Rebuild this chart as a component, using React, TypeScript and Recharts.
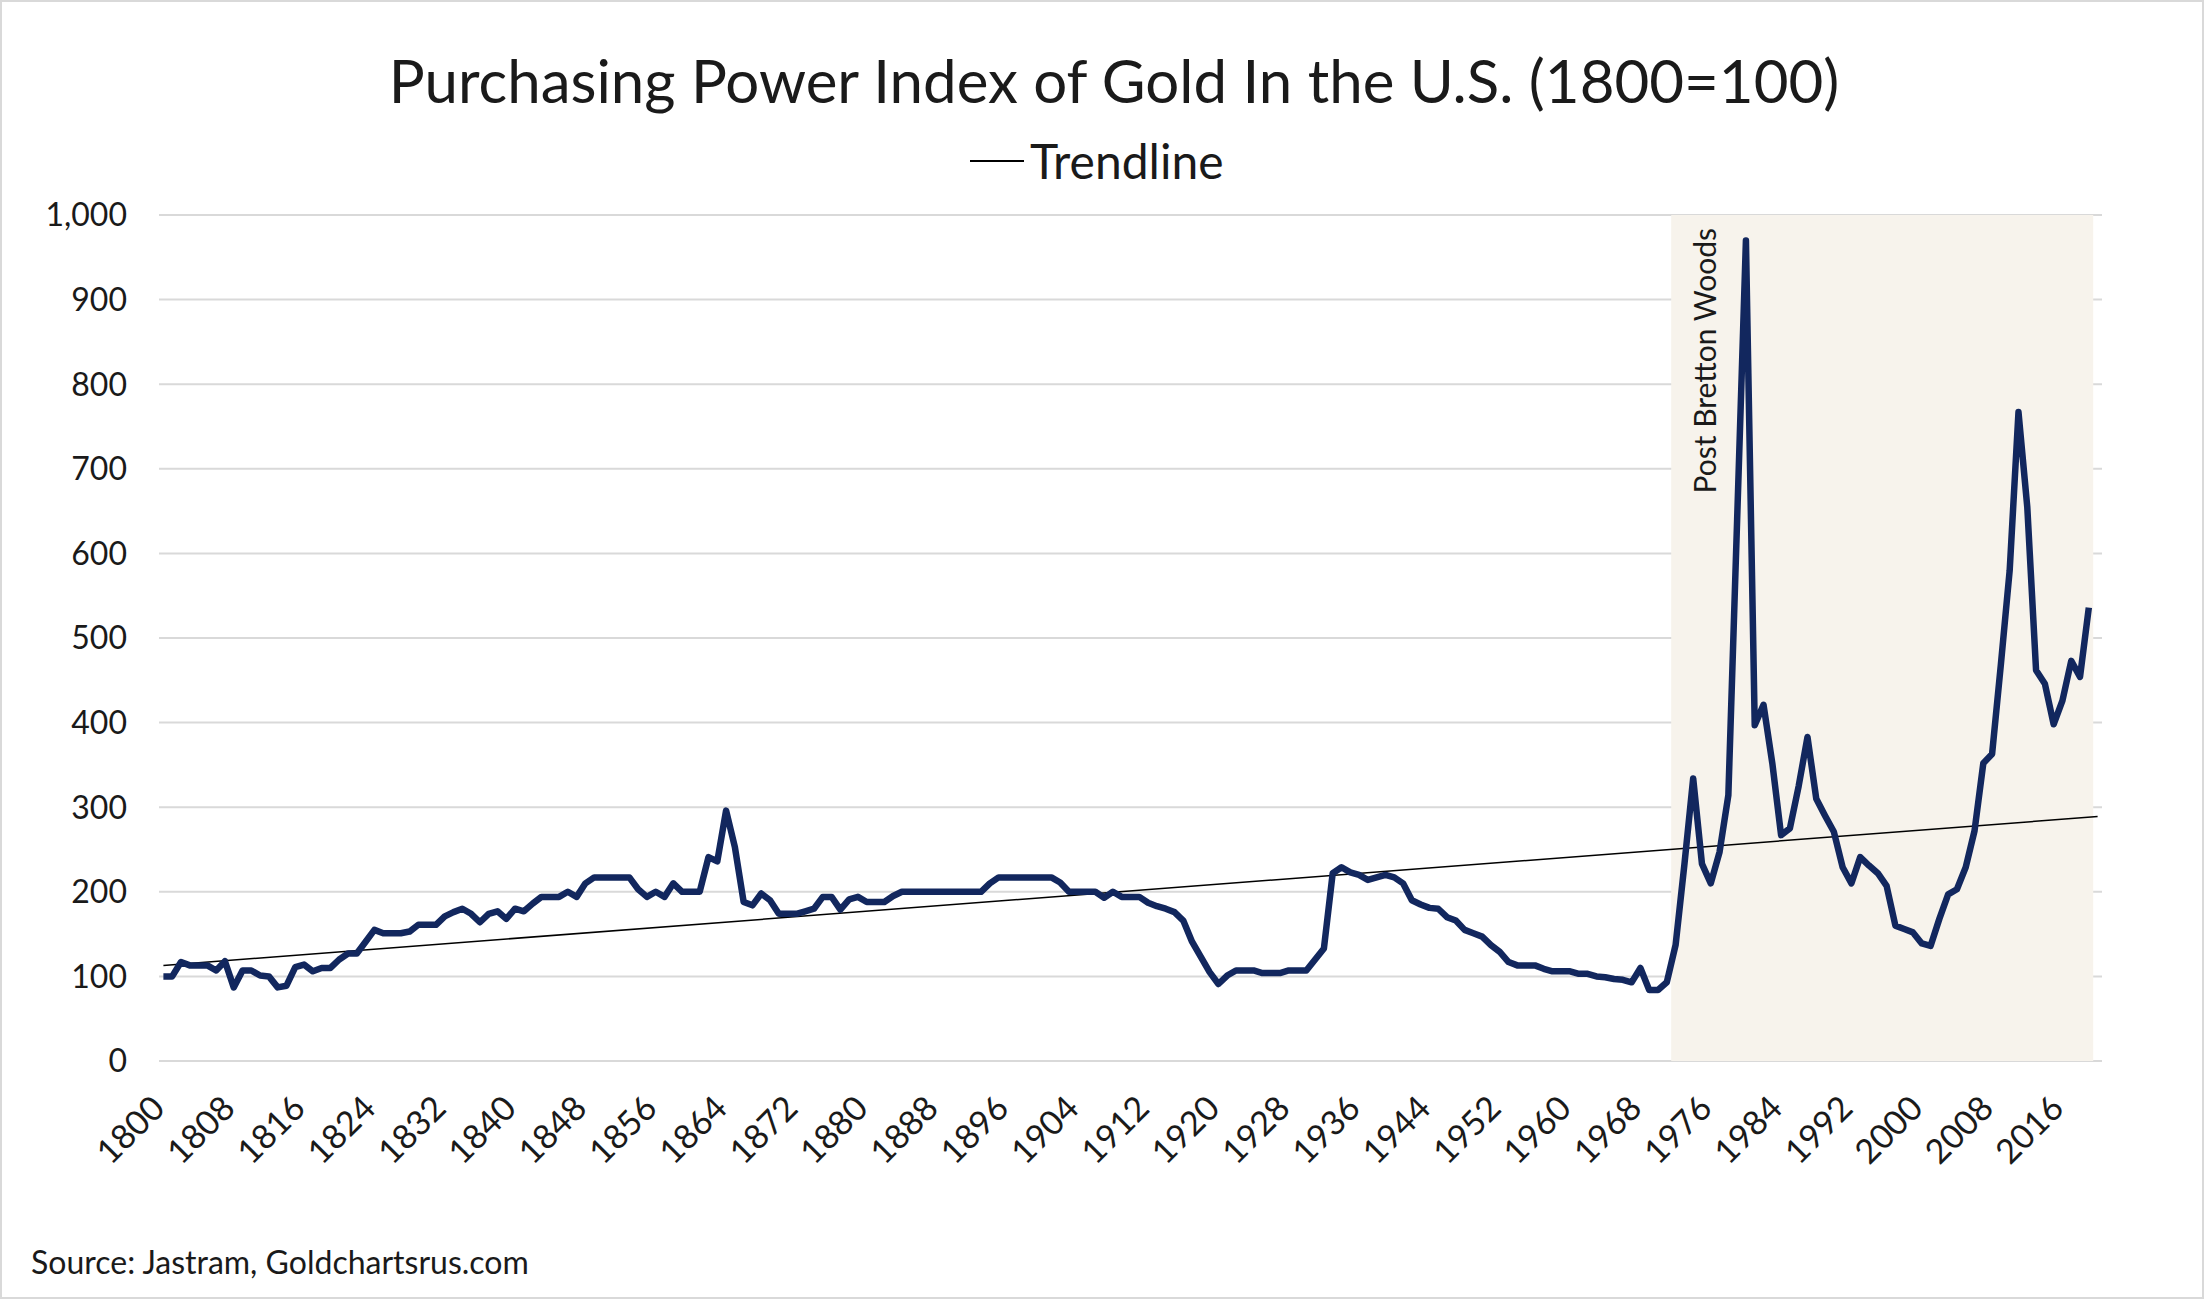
import React from 'react';
import {
  ComposedChart,
  Line,
  XAxis,
  YAxis,
  CartesianGrid,
  ReferenceArea,
  ReferenceLine,
} from 'recharts';

// categories: one per year, 1800..2020 (2020 has no value, the axis just runs to it)
const years: string[] = Array.from({ length: 221 }, (_, i) => String(1800 + i));

// purchasing power index of gold, 1800=100 (1800..2019)
const goldIndex: number[] = [
  100, 100, 117, 113, 113, 113, 107, 118, 87, 107, // 1800s
  107, 101, 100, 87, 89, 111, 114, 106, 110, 110, // 1810s
  120, 127, 127, 141, 155, 151, 151, 151, 153, 161, // 1820s
  161, 161, 171, 176, 180, 174, 164, 174, 177, 168, // 1830s
  180, 177, 186, 194, 194, 194, 200, 194, 210, 217, // 1840s
  217, 217, 217, 217, 203, 194, 200, 194, 210, 200, // 1850s
  200, 200, 241, 236, 296, 253, 188, 184, 198, 190, // 1860s
  174, 174, 174, 177, 180, 194, 194, 179, 191, 194, // 1870s
  188, 188, 188, 195, 200, 200, 200, 200, 200, 200, // 1880s
  200, 200, 200, 200, 210, 217, 217, 217, 217, 217, // 1890s
  217, 217, 211, 200, 200, 200, 200, 193, 200, 194, // 1900s
  194, 194, 187, 183, 180, 176, 166, 141, 123, 105, // 1910s
  91, 101, 107, 107, 107, 104, 104, 104, 107, 107, // 1920s
  107, 120, 133, 222, 229, 223, 220, 214, 217, 220, // 1930s
  217, 210, 190, 185, 181, 180, 170, 166, 155, 151, // 1940s
  147, 137, 129, 117, 113, 113, 113, 109, 106, 106, // 1950s
  106, 103, 103, 100, 99, 97, 96, 93, 110, 84, // 1960s
  84, 93, 137, 232, 334, 233, 210, 247, 314, 640, // 1970s
  970, 397, 421, 352, 267, 275, 325, 383, 310, 290, // 1980s
  271, 229, 210, 241, 231, 222, 207, 160, 156, 152, // 1990s
  139, 136, 168, 197, 203, 229, 272, 352, 363, 469, // 2000s
  580, 767, 655, 462, 446, 398, 426, 473, 454, 536, // 2010s
];

// linear trendline end points
const trendStart = { year: '1800', value: 113 };
const trendEnd = { year: '2020', value: 289 };

// shaded post Bretton Woods period
const shadeFrom = '1972';
const shadeTo = '2019';

const yTicks = [0, 100, 200, 300, 400, 500, 600, 700, 800, 900, 1000];
const xTickYears = [
  '1800', '1808', '1816', '1824', '1832', '1840', '1848', '1856', '1864',
  '1872', '1880', '1888', '1896', '1904', '1912', '1920', '1928', '1936',
  '1944', '1952', '1960', '1968', '1976', '1984', '1992', '2000', '2008', '2016',
];

const chartData = years.map((year, i) => ({
  year,
  gold: i < goldIndex.length ? goldIndex[i] : null,
}));

const FONT = "Lato, 'Open Sans', sans-serif";
const TEXT = '#1a1a1a';

const YearTick = (props: any) => {
  const { x, y, payload } = props;
  const tx = x - 16;
  return (
    <text
      x={tx}
      y={y}
      transform={`rotate(-45 ${tx} ${y})`}
      textAnchor="end"
      dominantBaseline="hanging"
      fill={TEXT}
      fontSize={34}
      fontFamily={FONT}
    >
      {payload.value}
    </text>
  );
};

const BrettonLabel = (props: any) => {
  const { viewBox } = props;
  const x = viewBox.x + 45;
  const y = viewBox.y + 13;
  return (
    <text
      x={x}
      y={y}
      transform={`rotate(-90 ${x} ${y})`}
      textAnchor="end"
      fill={TEXT}
      fontSize={30}
      fontFamily={FONT}
    >
      Post Bretton Woods
    </text>
  );
};

export default function App() {
  return (
    <div
      style={{
        position: 'absolute',
        top: 0,
        left: 0,
        width: 2204,
        height: 1299,
        background: '#fff',
        fontFamily: FONT,
        color: TEXT,
      }}
    >
      <div
        style={{
          position: 'absolute',
          left: 114,
          width: 2000,
          top: 45,
          textAlign: 'center',
          fontSize: 60,
          lineHeight: '70px',
        }}
      >
        Purchasing Power Index of Gold In the U.S. (1800=100)
      </div>
      <div
        style={{
          position: 'absolute',
          left: 970,
          top: 132,
          display: 'flex',
          alignItems: 'center',
          fontSize: 48,
          lineHeight: '58px',
        }}
      >
        <span
          style={{ display: 'inline-block', width: 54, height: 2, background: '#000', marginRight: 6 }}
        />
        Trendline
      </div>
      <ComposedChart
        width={2204}
        height={1299}
        data={chartData}
        margin={{ top: 215, right: 102, bottom: 138, left: 0 }}
      >
        <ReferenceArea
          x1={shadeFrom}
          x2={shadeTo}
          y1={0}
          y2={1000}
          fill="#f7f3ec"
          fillOpacity={1}
          stroke="none"
          ifOverflow="extendDomain"
          label={<BrettonLabel />}
        />
        <CartesianGrid vertical={false} stroke="#d9d9d9" strokeWidth={2} />
        <XAxis
          dataKey="year"
          type="category"
          scale="band"
          ticks={xTickYears}
          interval={0}
          axisLine={false}
          tickLine={false}
          tickSize={6}
          tickMargin={24}
          height={100}
          tick={<YearTick />}
        />
        <YAxis
          domain={[0, 1000]}
          ticks={yTicks}
          width={159}
          axisLine={false}
          tickLine={false}
          tickSize={6}
          tickMargin={26}
          tickFormatter={(v: number) => v.toLocaleString('en-US')}
          tick={{ fill: TEXT, fontSize: 32, fontFamily: FONT }}
        />
        <ReferenceLine
          segment={[
            { x: trendStart.year, y: trendStart.value },
            { x: trendEnd.year, y: trendEnd.value },
          ]}
          stroke="#000"
          strokeWidth={1.5}
        />
        <Line
          type="linear"
          dataKey="gold"
          stroke="#12275e"
          strokeWidth={6.5}
          strokeLinejoin="round"
          dot={false}
          activeDot={false}
          isAnimationActive={false}
        />
      </ComposedChart>
      <div
        style={{
          position: 'absolute',
          left: 31,
          top: 1243,
          fontSize: 32,
          lineHeight: '38px',
        }}
      >
        Source: Jastram, Goldchartsrus.com
      </div>
      <div
        style={{
          position: 'absolute',
          inset: 0,
          border: '2px solid #d9d9d9',
          pointerEvents: 'none',
        }}
      />
    </div>
  );
}
